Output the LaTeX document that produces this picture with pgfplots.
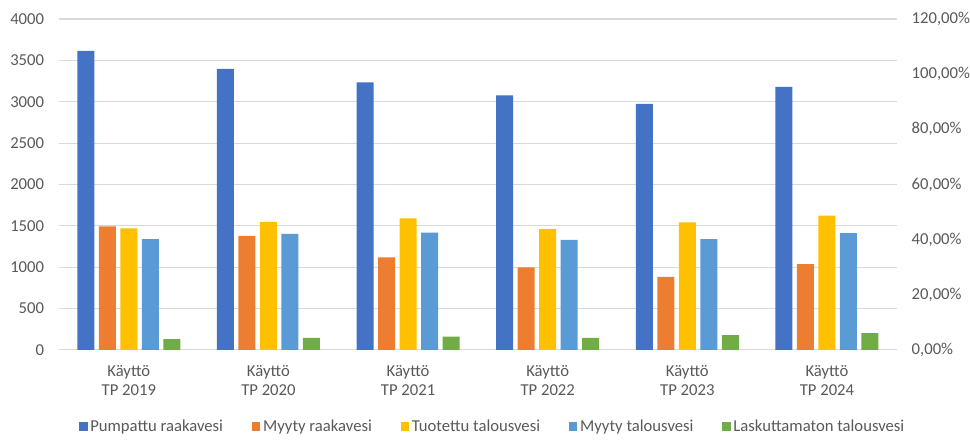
\documentclass[border=0pt]{standalone}
\usepackage{pgfplots}
\pgfplotsset{compat=1.18}
\usepackage{fontspec}
\setmainfont{Carlito}
\definecolor{cBlue}{HTML}{4472C4}
\definecolor{cOrange}{HTML}{ED7D31}
\definecolor{cYellow}{HTML}{FFC000}
\definecolor{cLight}{HTML}{5B9BD5}
\definecolor{cGreen}{HTML}{70AD47}
\definecolor{txt}{HTML}{595959}
\definecolor{grd}{HTML}{D9D9D9}
\begin{document}
\fontsize{12.5}{15}\selectfont
\begin{tikzpicture}
\pgfplotsset{
  base/.style={
    scale only axis, width=628.5pt, height=248.25pt,
    xmin=-0.5, xmax=5.5,
    major tick length=0pt,
    axis line style={draw=none},
    tick label style={font=\fontsize{12.5}{15}\selectfont, text=txt},
    /pgf/number format/assume math mode=true,
  }
}
\begin{axis}[base,
  ybar=3.375pt, bar width=12.75pt,
  ymin=0, ymax=4000, ytick={0,500,...,4000},
  yticklabel style={inner sep=0pt, xshift=-11pt},
  /pgf/number format/.cd, fixed, set thousands separator={}, /pgfplots/.cd,
  ymajorgrids, grid style={grd, line width=0.8pt},
  xtick={0,...,5},
  xticklabels={{Käyttö\\TP 2019},{Käyttö\\TP 2020},{Käyttö\\TP 2021},{Käyttö\\TP 2022},{Käyttö\\TP 2023},{Käyttö\\TP 2024}},
  xticklabel style={align=center, yshift=-7pt, font=\fontsize{12.5}{14.5}\selectfont},
  clip=false,
  legend columns=5,
  legend style={at={(0.518,-0.232)}, anchor=center, draw=none, fill=none,
    font=\fontsize{12.5}{15}\selectfont, text=txt,
    /tikz/every even column/.append style={column sep=19.5pt}},
  legend image code/.code={\fill[#1] (0pt,-3.2pt) rectangle (6.5pt,3.2pt);},
]
\addplot[fill=cBlue, draw=none] coordinates {(0,3614) (1,3396) (2,3234) (3,3078) (4,2973) (5,3179)};
\addplot[fill=cOrange, draw=none] coordinates {(0,1493) (1,1378) (2,1119) (3,997) (4,884) (5,1038)};
\addplot[fill=cYellow, draw=none] coordinates {(0,1468) (1,1549) (2,1590) (3,1460) (4,1541) (5,1622)};
\addplot[fill=cLight, draw=none] coordinates {(0,1338) (1,1403) (2,1419) (3,1330) (4,1338) (5,1411)};
\addplot[fill=cGreen, draw=none] coordinates {(0,130) (1,146) (2,162) (3,146) (4,178) (5,203)};
\legend{Pumpattu raakavesi, Myyty raakavesi, Tuotettu talousvesi, Myyty talousvesi, Laskuttamaton talousvesi}
\path (rel axis cs:-0.0704,-0.2598) rectangle (rel axis cs:1.0871,1.0574);
\end{axis}
\begin{axis}[base,
  ymin=0, ymax=1.2, ytick={0,0.2,...,1.2},
  yticklabels={{0,00\%},{20,00\%},{40,00\%},{60,00\%},{80,00\%},{100,00\%},{120,00\%}},
  axis y line*=right, axis x line=none,
  y axis line style={draw=none},
  yticklabel style={inner sep=0pt, xshift=11pt, anchor=west},
]
\addplot[draw=none, forget plot] coordinates {(0,0)};
\end{axis}
\end{tikzpicture}
\end{document}
